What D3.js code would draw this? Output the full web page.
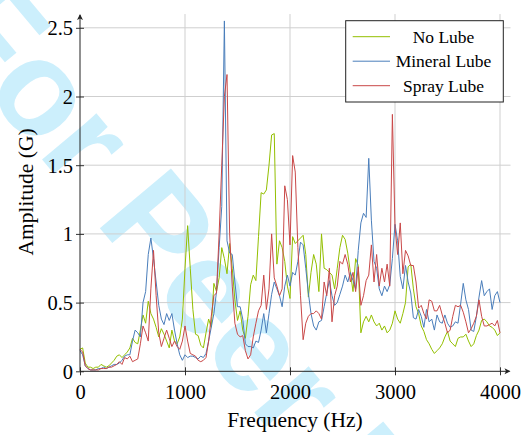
<!DOCTYPE html>
<html>
<head>
<meta charset="utf-8">
<script src="https://cdn.jsdelivr.net/npm/d3@7"></script>
<style>
html,body{margin:0;padding:0;background:#fff;}
svg{display:block;}
</style>
</head>
<body>
<svg id="chart" width="523" height="435"></svg>
<script>
// ---- data ----
const frequencies = [0,25,50,75,100,125,150,175,200,225,250,275,300,325,350,375,400,425,450,475,
500,525,550,575,600,625,650,675,700,725,750,775,800,825,850,875,900,925,950,975,
1000,1025,1050,1075,1100,1125,1150,1175,1200,1225,1250,1275,1300,1325,1350,1375,1400,1425,1450,1475,
1500,1525,1550,1575,1600,1625,1650,1675,1700,1725,1750,1775,1800,1825,1850,1875,1900,1925,1950,1975,
2000,2025,2050,2075,2100,2125,2150,2175,2200,2225,2250,2275,2300,2325,2350,2375,2400,2425,2450,2475,
2500,2525,2550,2575,2600,2625,2650,2675,2700,2725,2750,2775,2800,2825,2850,2875,2900,2925,2950,2975,
3000,3025,3050,3075,3100,3125,3150,3175,3200,3225,3250,3275,3300,3325,3350,3375,3400,3425,3450,3475,
3500,3525,3550,3575,3600,3625,3650,3675,3700,3725,3750,3775,3800,3825,3850,3875,3900,3925,3950,3975,
4000];

const noLube = [0.16,0.17,0.06,0.03,0.03,0.02,0.03,0.03,0.05,0.04,0.03,0.04,0.06,0.08,0.11,0.12,0.10,0.12,0.14,0.17,
0.24,0.21,0.20,0.30,0.41,0.35,0.51,0.42,0.38,0.32,0.25,0.31,0.27,0.22,0.17,0.30,0.22,0.20,0.25,0.38,
0.75,1.06,0.75,0.45,0.27,0.26,0.19,0.17,0.28,0.38,0.32,0.64,0.58,0.68,0.90,0.82,0.71,0.93,0.75,0.52,
0.37,0.44,0.30,0.24,0.40,0.63,0.70,0.66,0.98,1.30,1.29,1.32,1.50,1.72,1.73,0.78,0.95,0.90,0.80,0.62,
0.53,0.98,0.93,0.95,0.97,0.99,0.85,0.54,0.72,0.85,0.78,0.58,1.00,0.75,0.74,0.72,0.70,0.60,0.75,0.90,
0.99,0.96,0.86,0.72,0.58,0.82,0.77,0.28,0.36,0.40,0.36,0.41,0.36,0.33,0.35,0.30,0.33,0.28,0.30,0.35,
0.44,0.38,0.35,0.42,0.50,0.76,0.78,0.60,0.47,0.42,0.33,0.29,0.23,0.20,0.16,0.13,0.15,0.17,0.20,0.25,
0.29,0.22,0.20,0.18,0.24,0.25,0.25,0.27,0.22,0.18,0.20,0.26,0.30,0.37,0.38,0.36,0.33,0.32,0.30,0.26,
0.28];

const mineralLube = [0.15,0.12,0.04,0.02,0.01,0.01,0.01,0.02,0.02,0.03,0.02,0.03,0.04,0.05,0.05,0.06,0.08,0.11,0.12,0.12,
0.22,0.30,0.28,0.25,0.50,0.58,0.85,0.97,0.82,0.65,0.48,0.38,0.34,0.42,0.37,0.42,0.30,0.20,0.12,0.08,
0.12,0.10,0.11,0.11,0.10,0.09,0.11,0.10,0.13,0.22,0.32,0.42,0.58,0.90,1.20,2.55,0.95,0.86,0.85,0.65,
0.47,0.47,0.38,0.20,0.18,0.18,0.17,0.22,0.21,0.30,0.42,0.28,0.42,0.56,0.65,0.60,0.55,0.47,0.62,0.70,
0.62,0.72,0.70,0.80,0.94,0.92,0.75,0.57,0.42,0.33,0.30,0.36,0.37,0.47,0.57,0.66,0.55,0.48,0.50,0.56,
0.62,0.70,0.65,0.72,0.66,0.60,0.88,1.08,1.15,1.12,1.55,1.10,0.80,0.75,0.60,0.55,0.62,0.58,0.63,0.82,
1.07,0.95,0.69,0.60,0.77,0.65,0.57,0.39,0.38,0.45,0.40,0.32,0.45,0.36,0.38,0.30,0.41,0.36,0.35,0.41,
0.35,0.32,0.33,0.36,0.35,0.49,0.64,0.52,0.45,0.30,0.29,0.40,0.54,0.66,0.55,0.58,0.60,0.45,0.55,0.58,
0.50];

const sprayLube = [0.16,0.14,0.04,0.02,0.01,0.01,0.01,0.01,0.02,0.02,0.02,0.03,0.03,0.04,0.05,0.07,0.05,0.10,0.09,0.11,
0.07,0.08,0.09,0.20,0.33,0.28,0.22,0.60,0.88,0.55,0.28,0.18,0.24,0.30,0.24,0.18,0.22,0.18,0.16,0.22,
0.33,0.22,0.13,0.12,0.11,0.08,0.07,0.08,0.10,0.22,0.40,0.55,0.57,1.00,1.50,2.00,2.16,1.00,0.62,0.35,
0.27,0.25,0.26,0.15,0.09,0.12,0.25,0.35,0.44,0.48,0.70,0.45,0.60,1.00,0.68,0.62,0.55,0.60,1.35,1.25,
0.92,1.57,1.45,0.90,0.55,0.23,0.35,0.40,0.42,0.42,0.44,0.42,0.38,0.65,0.55,0.75,0.36,0.55,0.62,0.80,
0.78,0.85,0.78,0.65,0.72,0.58,0.76,0.48,0.55,0.66,0.70,0.92,0.65,0.85,0.62,0.75,0.65,0.78,0.62,1.87,
1.05,0.85,1.08,0.71,0.88,0.84,0.77,0.77,0.65,0.46,0.48,0.42,0.38,0.52,0.51,0.44,0.44,0.48,0.41,0.35,
0.28,0.30,0.40,0.48,0.47,0.48,0.43,0.36,0.28,0.31,0.35,0.40,0.52,0.40,0.33,0.33,0.34,0.35,0.33,0.37,
0.28];

const seriesNames = ["No Lube", "Mineral Lube", "Spray Lube"];
const xTicks = [0, 1000, 2000, 3000, 4000];
const yTicks = [0, 0.5, 1, 1.5, 2, 2.5];
const yTickLabels = ["0", "0.5", "1", "1.5", "2", "2.5"];

// ---- pick an installed serif font ----
function pickFont(cands, fallback) {
  const c = document.createElement("canvas").getContext("2d");
  const probe = "Frequency Amplitude 0123456789 (Hz)";
  for (const base of ["monospace", "sans-serif"]) {
    c.font = "30px " + base;
    const w0 = c.measureText(probe).width;
    for (const f of cands) {
      c.font = `30px "${f}", ${base}`;
      if (Math.abs(c.measureText(probe).width - w0) > 0.5) return `"${f}"`;
    }
  }
  return fallback;
}
const serif = pickFont(["Liberation Serif", "Times New Roman", "Tinos", "DejaVu Serif", "Noto Serif", "Times"], "serif");

// ---- drawing ----
const svg = d3.select("#chart");
const colors = ["#93bf00", "#4a7ebb", "#c94848"];
const seriesData = [noLube, mineralLube, sprayLube];

const x = d3.scaleLinear().domain([0, 4000]).range([80, 500]);
const y = d3.scaleLinear().domain([0, 2.5]).range([371.3, 27.8]);
const xEnd = x(4100), yTop = y(2.6);

// watermark
svg.append("text")
  .attr("transform", "translate(-70,26) rotate(50)")
  .style("font-family", "'Liberation Sans',Arial,sans-serif")
  .style("font-weight", "bold")
  .style("font-size", "135px")
  .attr("fill", "#00aeef")
  .attr("fill-opacity", 0.2)
  .text("For Peer Review");

// grid
const grid = svg.append("g").attr("stroke", "#cfcfcf").attr("stroke-width", 1);
xTicks.filter(d => d > 0).forEach(d => {
  grid.append("line").attr("x1", x(d)).attr("x2", x(d)).attr("y1", y(0)).attr("y2", yTop);
});
yTicks.filter(d => d > 0).forEach(d => {
  grid.append("line").attr("x1", x(0)).attr("x2", xEnd).attr("y1", y(d)).attr("y2", y(d));
});

// series lines
const line = d3.line().x((d, i) => x(frequencies[i])).y(d => y(d));
seriesData.forEach((s, k) => {
  svg.append("path").datum(s)
    .attr("fill", "none")
    .attr("stroke", colors[k])
    .attr("stroke-width", 1)
    .attr("stroke-linejoin", "round")
    .attr("d", line);
});

// axes
const xAxis = d3.axisBottom(x).tickValues(xTicks).tickFormat(d3.format("d")).tickSize(4);
const gx = svg.append("g").attr("transform", `translate(0,${y(0)})`).call(xAxis)
  .attr("font-family", serif).attr("font-size", 20.5);
gx.select(".domain").remove();
gx.selectAll(".tick line").attr("y1", -4).attr("y2", 4).attr("stroke", "#333");
gx.selectAll(".tick text").attr("y", 28).attr("dy", 0)
  .style("font-family", serif).style("font-size", "20.5px").attr("fill", "#000");

const yAxis = d3.axisLeft(y).tickValues(yTicks).tickFormat((d, i) => yTickLabels[i]).tickSize(4);
const gy = svg.append("g").attr("transform", `translate(${x(0)},0)`).call(yAxis)
  .attr("font-family", serif).attr("font-size", 20.5);
gy.select(".domain").remove();
gy.selectAll(".tick line").attr("x1", -4).attr("x2", 4).attr("stroke", "#333");
gy.selectAll(".tick text").attr("x", -7).attr("dy", "0.34em")
  .style("font-family", serif).style("font-size", "20.5px").attr("fill", "#000");

// axis lines with arrows
svg.append("line").attr("x1", x(0)).attr("x2", xEnd - 1).attr("y1", y(0)).attr("y2", y(0))
  .attr("stroke", "#222").attr("stroke-width", 1);
svg.append("line").attr("x1", x(0)).attr("x2", x(0)).attr("y1", y(0)).attr("y2", yTop + 1)
  .attr("stroke", "#222").attr("stroke-width", 1);
svg.append("path")
  .attr("d", `M${xEnd},${y(0)} L${xEnd - 6},${y(0) - 3} L${xEnd - 4.5},${y(0)} L${xEnd - 6},${y(0) + 3} Z`)
  .attr("fill", "#222");
svg.append("path")
  .attr("d", `M${x(0)},${yTop} L${x(0) - 3},${yTop + 6} L${x(0)},${yTop + 4.5} L${x(0) + 3},${yTop + 6} Z`)
  .attr("fill", "#222");

// axis titles
svg.append("text").attr("x", 295).attr("y", 427).attr("text-anchor", "middle")
  .style("font-family", serif).style("font-size", "21.5px").text("Frequency (Hz)");
svg.append("text").attr("transform", "translate(33,192) rotate(-90)").attr("text-anchor", "middle")
  .style("font-family", serif).style("font-size", "21.5px").text("Amplitude (G)");

// legend
const lg = svg.append("g");
lg.append("rect").attr("x", 345.7).attr("y", 20.7).attr("width", 157.6).attr("height", 81.3)
  .attr("fill", "#fff").attr("stroke", "#222").attr("stroke-width", 1);
seriesNames.forEach((name, k) => {
  const ly = 36.7 + k * 24.5;
  lg.append("line").attr("x1", 352.7).attr("x2", 390).attr("y1", ly).attr("y2", ly)
    .attr("stroke", colors[k]).attr("stroke-width", 1);
  lg.append("text").attr("x", 443.5).attr("y", ly + 5.8).attr("text-anchor", "middle")
    .style("font-family", serif).style("font-size", "17.5px").text(name);
});
</script>
</body>
</html>
